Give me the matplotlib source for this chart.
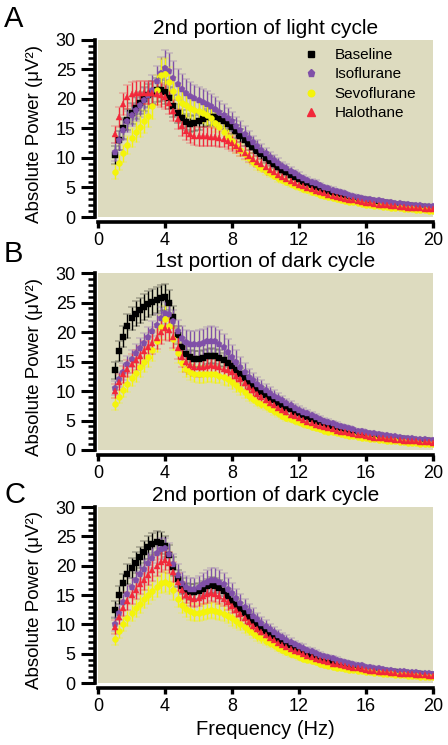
import numpy as np
import matplotlib
matplotlib.use("Agg")
import matplotlib.pyplot as plt
from matplotlib.lines import Line2D
from matplotlib.ticker import MultipleLocator

plt.rcParams['font.family'] = ['Liberation Sans', 'DejaVu Sans']

# ---------------- data ----------------
freq = np.arange(1.0, 20.01, 0.25)  # Hz bins, 1..20

series_names = ['Baseline', 'Isoflurane', 'Sevoflurane', 'Halothane']
panel_titles = ['2nd portion of light cycle', '1st portion of dark cycle', '2nd portion of dark cycle']
panel_letters = ['A', 'B', 'C']

# Panel A: 2nd portion of light cycle
a_base = [10.5, 13.0, 15.0, 16.5, 17.6, 18.5, 19.3, 20.0, 20.6, 21.1, 21.5, 21.6,
          21.2, 20.2, 18.8, 17.6, 16.7, 16.1, 15.8, 15.9, 16.2, 16.6, 16.9, 17.0,
          16.9, 16.6, 16.2, 15.8, 15.2, 14.5, 13.8, 13.1, 12.4, 11.8, 11.2, 10.6,
          10.0, 9.5, 9.0, 8.5, 8.0, 7.6, 7.2, 6.8, 6.4, 6.0, 5.7, 5.4,
          5.1, 4.8, 4.6, 4.3, 4.1, 3.9, 3.7, 3.5, 3.3, 3.2, 3.0, 2.9,
          2.8, 2.7, 2.6, 2.5, 2.4, 2.3, 2.2, 2.1, 2.0, 1.95, 1.9, 1.8,
          1.75, 1.7, 1.65, 1.6, 1.55]
a_iso = [11.0, 13.0, 14.8, 16.2, 17.3, 18.2, 19.0, 19.8, 20.6, 21.6, 23.0, 24.4,
         25.3, 24.8, 23.6, 22.5, 21.7, 21.0, 20.5, 20.1, 19.8, 19.5, 19.2, 18.8,
         18.3, 17.8, 17.3, 16.8, 16.2, 15.5, 14.8, 14.1, 13.4, 12.7, 12.0, 11.4,
         10.8, 10.2, 9.7, 9.2, 8.7, 8.3, 7.8, 7.4, 7.0, 6.6, 6.3, 6.0,
         5.7, 5.4, 5.1, 4.9, 4.6, 4.4, 4.2, 4.0, 3.8, 3.6, 3.4, 3.3,
         3.1, 3.0, 2.9, 2.8, 2.7, 2.6, 2.5, 2.4, 2.3, 2.2, 2.15, 2.1,
         2.0, 1.95, 1.9, 1.85, 1.8]
a_sevo = [7.6, 9.2, 10.8, 12.2, 13.4, 14.4, 15.3, 16.2, 17.2, 18.8, 21.5, 24.0,
          24.2, 22.8, 21.3, 20.2, 19.4, 18.9, 18.5, 18.2, 18.0, 17.7, 17.3, 16.7,
          16.0, 15.2, 14.4, 13.6, 12.8, 12.0, 11.3, 10.6, 10.0, 9.4, 8.8, 8.3,
          7.8, 7.4, 7.0, 6.6, 6.2, 5.9, 5.6, 5.3, 5.0, 4.7, 4.5, 4.2,
          4.0, 3.8, 3.6, 3.4, 3.2, 3.0, 2.9, 2.7, 2.6, 2.5, 2.4, 2.2,
          2.1, 2.0, 1.9, 1.8, 1.75, 1.7, 1.6, 1.55, 1.5, 1.4, 1.35, 1.3,
          1.25, 1.2, 1.15, 1.1, 1.05]
a_halo = [14.0, 17.0, 19.2, 20.3, 20.8, 21.0, 21.1, 21.1, 21.1, 21.0, 20.9, 20.7,
          20.3, 19.4, 18.0, 16.6, 15.4, 14.6, 14.1, 13.8, 13.7, 13.7, 13.7, 13.6,
          13.5, 13.4, 13.2, 12.9, 12.5, 12.0, 11.5, 10.9, 10.4, 9.9, 9.4, 8.9,
          8.5, 8.0, 7.6, 7.2, 6.8, 6.5, 6.1, 5.8, 5.5, 5.2, 4.9, 4.7,
          4.4, 4.2, 4.0, 3.8, 3.6, 3.4, 3.2, 3.1, 2.9, 2.8, 2.7, 2.5,
          2.4, 2.3, 2.2, 2.1, 2.0, 1.95, 1.9, 1.8, 1.75, 1.7, 1.6, 1.55,
          1.5, 1.45, 1.4, 1.35, 1.3]
a_base_sem = [1.5, 1.6, 1.7, 1.8, 1.8, 1.9, 1.9, 2.0, 2.0, 2.0, 2.0, 2.0,
              2.0, 1.9, 1.8, 1.6, 1.5, 1.4, 1.4, 1.4, 1.4, 1.4, 1.4, 1.4,
              1.4, 1.3, 1.3, 1.2, 1.2, 1.1, 1.1, 1.0, 1.0, 0.9, 0.9, 0.8,
              0.8, 0.8, 0.7, 0.7, 0.7, 0.6, 0.6, 0.6, 0.5, 0.5, 0.5, 0.5,
              0.4, 0.4, 0.4, 0.4, 0.4, 0.3, 0.3, 0.3, 0.3, 0.3, 0.3, 0.3,
              0.3, 0.3, 0.3, 0.3, 0.3, 0.2, 0.2, 0.2, 0.2, 0.2, 0.2, 0.2,
              0.2, 0.2, 0.2, 0.2, 0.2]
a_iso_sem = [1.5, 1.6, 1.7, 1.8, 1.9, 2.0, 2.0, 2.1, 2.2, 2.4, 2.6, 2.8,
             3.0, 3.0, 2.8, 2.6, 2.5, 2.4, 2.3, 2.2, 2.2, 2.2, 2.2, 2.1,
             2.0, 1.9, 1.8, 1.7, 1.6, 1.5, 1.4, 1.3, 1.2, 1.1, 1.0, 1.0,
             0.9, 0.9, 0.8, 0.8, 0.7, 0.7, 0.6, 0.6, 0.6, 0.5, 0.5, 0.5,
             0.5, 0.4, 0.4, 0.4, 0.4, 0.4, 0.3, 0.3, 0.3, 0.3, 0.3, 0.3,
             0.3, 0.3, 0.3, 0.3, 0.2, 0.2, 0.2, 0.2, 0.2, 0.2, 0.2, 0.2,
             0.2, 0.2, 0.2, 0.2, 0.2]
a_sevo_sem = [1.2, 1.3, 1.4, 1.5, 1.6, 1.7, 1.8, 1.9, 2.0, 2.2, 2.5, 2.8,
              2.8, 2.6, 2.4, 2.2, 2.0, 1.9, 1.8, 1.8, 1.8, 1.8, 1.7, 1.7,
              1.6, 1.5, 1.4, 1.3, 1.2, 1.1, 1.0, 1.0, 0.9, 0.8, 0.8, 0.7,
              0.7, 0.6, 0.6, 0.6, 0.5, 0.5, 0.5, 0.4, 0.4, 0.4, 0.4, 0.4,
              0.3, 0.3, 0.3, 0.3, 0.3, 0.3, 0.3, 0.2, 0.2, 0.2, 0.2, 0.2,
              0.2, 0.2, 0.2, 0.2, 0.2, 0.2, 0.2, 0.2, 0.2, 0.2, 0.2, 0.2,
              0.2, 0.2, 0.2, 0.2, 0.2]
a_halo_sem = [1.5, 1.7, 1.9, 2.0, 2.0, 2.0, 2.0, 2.0, 2.0, 2.0, 2.0, 2.0,
              2.0, 1.9, 1.8, 1.7, 1.6, 1.6, 1.6, 1.6, 1.6, 1.6, 1.6, 1.6,
              1.5, 1.5, 1.4, 1.4, 1.3, 1.2, 1.2, 1.1, 1.0, 1.0, 0.9, 0.9,
              0.8, 0.8, 0.7, 0.7, 0.6, 0.6, 0.6, 0.5, 0.5, 0.5, 0.5, 0.4,
              0.4, 0.4, 0.4, 0.3, 0.3, 0.3, 0.3, 0.3, 0.3, 0.3, 0.3, 0.3,
              0.2, 0.2, 0.2, 0.2, 0.2, 0.2, 0.2, 0.2, 0.2, 0.2, 0.2, 0.2,
              0.2, 0.2, 0.2, 0.2, 0.2]

# Panel B: 1st portion of dark cycle
b_base = [13.5, 16.8, 19.2, 21.0, 22.3, 23.1, 23.7, 24.2, 24.7, 25.1, 25.5, 25.8,
          25.9, 25.0, 22.5, 19.5, 17.5, 16.3, 15.7, 15.4, 15.4, 15.6, 15.9, 16.0,
          15.9, 15.6, 15.2, 14.7, 14.2, 13.6, 12.9, 12.2, 11.5, 10.9, 10.3, 9.8,
          9.3, 8.8, 8.4, 8.0, 7.6, 7.2, 6.9, 6.5, 6.2, 5.9, 5.6, 5.3,
          5.0, 4.8, 4.5, 4.3, 4.0, 3.8, 3.6, 3.4, 3.2, 3.0, 2.9, 2.7,
          2.6, 2.5, 2.4, 2.3, 2.2, 2.1, 2.0, 1.9, 1.85, 1.8, 1.7, 1.65,
          1.6, 1.55, 1.5, 1.45, 1.4]
b_iso = [10.5, 12.0, 13.3, 14.5, 15.5, 16.4, 17.3, 18.2, 19.1, 20.1, 21.2, 22.4,
         23.2, 23.0, 21.8, 20.2, 19.0, 18.3, 18.0, 17.9, 17.9, 18.1, 18.4, 18.5,
         18.4, 18.0, 17.4, 16.6, 15.8, 15.0, 14.1, 13.2, 12.4, 11.8, 11.2, 10.7,
         10.2, 9.7, 9.2, 8.8, 8.4, 8.0, 7.6, 7.2, 6.8, 6.5, 6.2, 5.9,
         5.6, 5.3, 5.0, 4.8, 4.5, 4.3, 4.1, 3.9, 3.7, 3.5, 3.3, 3.2,
         3.0, 2.9, 2.8, 2.7, 2.6, 2.5, 2.4, 2.3, 2.2, 2.1, 2.05, 2.0,
         1.9, 1.85, 1.8, 1.75, 1.7]
b_sevo = [7.8, 9.0, 10.2, 11.2, 12.2, 13.1, 14.0, 14.9, 15.8, 16.9, 18.5, 20.8,
          22.2, 21.0, 18.8, 16.5, 14.8, 13.8, 13.2, 12.9, 12.8, 12.8, 12.9, 12.9,
          12.8, 12.6, 12.3, 12.0, 11.6, 11.0, 10.4, 9.8, 9.2, 8.7, 8.2, 7.8,
          7.4, 7.0, 6.6, 6.2, 5.8, 5.5, 5.2, 4.9, 4.7, 4.4, 4.2, 3.9,
          3.7, 3.5, 3.3, 3.1, 3.0, 2.8, 2.7, 2.5, 2.4, 2.3, 2.2, 2.1,
          2.0, 1.9, 1.8, 1.7, 1.65, 1.55, 1.5, 1.45, 1.4, 1.3, 1.25, 1.2,
          1.15, 1.1, 1.05, 1.0, 0.95]
b_halo = [10.0, 11.5, 12.8, 13.8, 14.6, 15.3, 16.0, 16.7, 17.4, 18.1, 19.0, 20.0,
          20.6, 20.4, 19.2, 17.3, 15.8, 14.9, 14.4, 14.1, 14.0, 14.1, 14.3, 14.4,
          14.3, 14.1, 13.8, 13.5, 13.2, 12.6, 12.0, 11.3, 10.7, 10.1, 9.5, 9.0,
          8.5, 8.0, 7.6, 7.1, 6.7, 6.4, 6.0, 5.7, 5.4, 5.1, 4.8, 4.6,
          4.3, 4.1, 3.9, 3.7, 3.5, 3.3, 3.1, 3.0, 2.8, 2.7, 2.6, 2.5,
          2.3, 2.2, 2.1, 2.0, 1.95, 1.9, 1.8, 1.75, 1.7, 1.6, 1.55, 1.5,
          1.45, 1.4, 1.35, 1.3, 1.25]
b_base_sem = [1.5, 1.7, 1.8, 2.0, 2.0, 2.1, 2.1, 2.2, 2.2, 2.2, 2.2, 2.2,
              2.2, 2.1, 1.9, 1.6, 1.4, 1.3, 1.3, 1.3, 1.3, 1.3, 1.3, 1.3,
              1.3, 1.3, 1.2, 1.2, 1.1, 1.1, 1.0, 1.0, 0.9, 0.9, 0.8, 0.8,
              0.7, 0.7, 0.7, 0.6, 0.6, 0.6, 0.5, 0.5, 0.5, 0.5, 0.4, 0.4,
              0.4, 0.4, 0.4, 0.3, 0.3, 0.3, 0.3, 0.3, 0.3, 0.3, 0.3, 0.2,
              0.2, 0.2, 0.2, 0.2, 0.2, 0.2, 0.2, 0.2, 0.2, 0.2, 0.2, 0.2,
              0.2, 0.2, 0.2, 0.2, 0.2]
b_iso_sem = [1.2, 1.3, 1.4, 1.5, 1.5, 1.6, 1.6, 1.7, 1.7, 1.8, 1.8, 1.9,
             1.9, 1.9, 1.9, 1.9, 2.0, 2.1, 2.2, 2.3, 2.4, 2.4, 2.5, 2.5,
             2.5, 2.4, 2.3, 2.2, 2.0, 1.9, 1.7, 1.6, 1.4, 1.3, 1.2, 1.1,
             1.0, 0.9, 0.9, 0.8, 0.8, 0.7, 0.7, 0.6, 0.6, 0.6, 0.5, 0.5,
             0.5, 0.4, 0.4, 0.4, 0.4, 0.4, 0.3, 0.3, 0.3, 0.3, 0.3, 0.3,
             0.3, 0.3, 0.3, 0.3, 0.2, 0.2, 0.2, 0.2, 0.2, 0.2, 0.2, 0.2,
             0.2, 0.2, 0.2, 0.2, 0.2]
b_sevo_sem = [1.0, 1.1, 1.2, 1.3, 1.4, 1.5, 1.6, 1.6, 1.7, 1.8, 1.9, 2.1,
              2.2, 2.1, 1.9, 1.7, 1.5, 1.4, 1.4, 1.4, 1.4, 1.4, 1.4, 1.4,
              1.4, 1.3, 1.3, 1.2, 1.2, 1.1, 1.0, 1.0, 0.9, 0.8, 0.8, 0.7,
              0.7, 0.6, 0.6, 0.6, 0.5, 0.5, 0.5, 0.4, 0.4, 0.4, 0.4, 0.3,
              0.3, 0.3, 0.3, 0.3, 0.3, 0.3, 0.2, 0.2, 0.2, 0.2, 0.2, 0.2,
              0.2, 0.2, 0.2, 0.2, 0.2, 0.2, 0.2, 0.2, 0.2, 0.2, 0.2, 0.2,
              0.2, 0.2, 0.2, 0.2, 0.2]
b_halo_sem = [1.2, 1.3, 1.4, 1.5, 1.6, 1.7, 1.7, 1.8, 1.8, 1.9, 1.9, 2.0,
              2.0, 2.0, 1.9, 1.8, 1.7, 1.6, 1.6, 1.6, 1.6, 1.6, 1.6, 1.6,
              1.5, 1.5, 1.4, 1.4, 1.3, 1.2, 1.2, 1.1, 1.0, 1.0, 0.9, 0.9,
              0.8, 0.8, 0.7, 0.7, 0.6, 0.6, 0.6, 0.5, 0.5, 0.5, 0.5, 0.4,
              0.4, 0.4, 0.4, 0.3, 0.3, 0.3, 0.3, 0.3, 0.3, 0.3, 0.3, 0.3,
              0.2, 0.2, 0.2, 0.2, 0.2, 0.2, 0.2, 0.2, 0.2, 0.2, 0.2, 0.2,
              0.2, 0.2, 0.2, 0.2, 0.2]

# Panel C: 2nd portion of dark cycle
c_base = [12.5, 15.0, 17.0, 18.5, 19.6, 20.5, 21.4, 22.3, 23.1, 23.7, 24.0, 23.9,
          23.3, 21.8, 19.8, 17.8, 16.5, 15.8, 15.5, 15.5, 15.7, 16.1, 16.5, 16.7,
          16.6, 16.2, 15.6, 14.9, 14.0, 13.3, 12.6, 11.9, 11.2, 10.6, 10.0, 9.4,
          8.9, 8.4, 8.0, 7.5, 7.1, 6.7, 6.4, 6.0, 5.7, 5.4, 5.1, 4.8,
          4.6, 4.3, 4.1, 3.9, 3.7, 3.5, 3.3, 3.1, 3.0, 2.8, 2.7, 2.6,
          2.4, 2.3, 2.2, 2.1, 2.0, 1.95, 1.9, 1.8, 1.75, 1.7, 1.6, 1.55,
          1.5, 1.45, 1.4, 1.35, 1.3]
c_iso = [10.0, 12.0, 13.8, 15.2, 16.4, 17.5, 18.5, 19.5, 20.4, 21.3, 22.2, 22.9,
         23.0, 22.0, 20.2, 18.4, 17.1, 16.4, 16.1, 16.1, 16.3, 16.8, 17.3, 17.6,
         17.6, 17.3, 16.8, 16.1, 15.3, 14.5, 13.7, 12.9, 12.2, 11.5, 10.9, 10.3,
         9.7, 9.2, 8.7, 8.2, 7.8, 7.4, 7.0, 6.6, 6.3, 6.0, 5.7, 5.4,
         5.1, 4.8, 4.6, 4.4, 4.2, 4.0, 3.8, 3.6, 3.4, 3.3, 3.1, 3.0,
         2.8, 2.7, 2.6, 2.5, 2.4, 2.3, 2.2, 2.1, 2.05, 2.0, 1.9, 1.85,
         1.8, 1.75, 1.7, 1.65, 1.6]
c_sevo = [7.5, 8.8, 10.0, 11.0, 11.9, 12.7, 13.5, 14.3, 15.0, 15.7, 16.4, 17.0,
          17.3, 16.9, 15.8, 14.4, 13.3, 12.6, 12.2, 12.0, 12.0, 12.1, 12.3, 12.4,
          12.3, 12.1, 11.8, 11.4, 11.0, 10.5, 10.0, 9.5, 9.0, 8.5, 8.0, 7.6,
          7.2, 6.8, 6.4, 6.0, 5.6, 5.3, 5.0, 4.7, 4.4, 4.1, 3.9, 3.7,
          3.5, 3.3, 3.1, 2.9, 2.8, 2.6, 2.5, 2.4, 2.3, 2.2, 2.1, 2.0,
          1.9, 1.8, 1.7, 1.65, 1.6, 1.5, 1.45, 1.4, 1.35, 1.3, 1.25, 1.2,
          1.15, 1.1, 1.05, 1.0, 0.95]
c_halo = [9.5, 11.3, 12.8, 14.0, 15.0, 15.9, 16.8, 17.6, 18.4, 19.2, 20.0, 20.7,
          21.0, 20.5, 19.0, 17.2, 15.8, 15.0, 14.6, 14.4, 14.5, 14.8, 15.1, 15.3,
          15.2, 14.9, 14.4, 13.8, 13.1, 12.4, 11.7, 11.0, 10.4, 9.8, 9.2, 8.7,
          8.2, 7.7, 7.3, 6.9, 6.5, 6.1, 5.8, 5.5, 5.2, 4.9, 4.6, 4.4,
          4.1, 3.9, 3.7, 3.5, 3.3, 3.2, 3.0, 2.9, 2.7, 2.6, 2.5, 2.4,
          2.2, 2.1, 2.0, 1.95, 1.9, 1.8, 1.75, 1.7, 1.6, 1.55, 1.5, 1.45,
          1.4, 1.35, 1.3, 1.25, 1.2]
c_base_sem = [1.4, 1.5, 1.6, 1.7, 1.7, 1.8, 1.8, 1.9, 1.9, 1.9, 1.9, 1.9,
              1.8, 1.7, 1.6, 1.5, 1.4, 1.3, 1.3, 1.3, 1.3, 1.3, 1.3, 1.3,
              1.3, 1.3, 1.2, 1.2, 1.1, 1.1, 1.0, 1.0, 0.9, 0.9, 0.8, 0.8,
              0.7, 0.7, 0.7, 0.6, 0.6, 0.6, 0.5, 0.5, 0.5, 0.5, 0.4, 0.4,
              0.4, 0.4, 0.4, 0.3, 0.3, 0.3, 0.3, 0.3, 0.3, 0.3, 0.3, 0.2,
              0.2, 0.2, 0.2, 0.2, 0.2, 0.2, 0.2, 0.2, 0.2, 0.2, 0.2, 0.2,
              0.2, 0.2, 0.2, 0.2, 0.2]
c_iso_sem = [1.2, 1.3, 1.4, 1.5, 1.5, 1.6, 1.6, 1.7, 1.7, 1.7, 1.8, 1.8,
             1.8, 1.8, 1.8, 1.8, 1.8, 1.8, 1.8, 1.8, 1.9, 1.9, 2.0, 2.0,
             2.0, 2.0, 1.9, 1.8, 1.7, 1.6, 1.5, 1.4, 1.3, 1.2, 1.1, 1.0,
             1.0, 0.9, 0.9, 0.8, 0.8, 0.7, 0.7, 0.6, 0.6, 0.6, 0.5, 0.5,
             0.5, 0.4, 0.4, 0.4, 0.4, 0.4, 0.3, 0.3, 0.3, 0.3, 0.3, 0.3,
             0.3, 0.3, 0.3, 0.3, 0.2, 0.2, 0.2, 0.2, 0.2, 0.2, 0.2, 0.2,
             0.2, 0.2, 0.2, 0.2, 0.2]
c_sevo_sem = [1.0, 1.1, 1.2, 1.3, 1.4, 1.4, 1.5, 1.5, 1.6, 1.6, 1.7, 1.7,
              1.8, 1.7, 1.6, 1.5, 1.4, 1.4, 1.4, 1.4, 1.4, 1.4, 1.4, 1.4,
              1.4, 1.3, 1.3, 1.2, 1.2, 1.1, 1.0, 1.0, 0.9, 0.8, 0.8, 0.7,
              0.7, 0.6, 0.6, 0.6, 0.5, 0.5, 0.5, 0.4, 0.4, 0.4, 0.4, 0.3,
              0.3, 0.3, 0.3, 0.3, 0.3, 0.3, 0.2, 0.2, 0.2, 0.2, 0.2, 0.2,
              0.2, 0.2, 0.2, 0.2, 0.2, 0.2, 0.2, 0.2, 0.2, 0.2, 0.2, 0.2,
              0.2, 0.2, 0.2, 0.2, 0.2]
c_halo_sem = [1.2, 1.3, 1.4, 1.5, 1.6, 1.6, 1.7, 1.7, 1.7, 1.8, 1.8, 1.8,
              1.8, 1.8, 1.7, 1.6, 1.5, 1.4, 1.4, 1.4, 1.4, 1.4, 1.4, 1.4,
              1.4, 1.4, 1.3, 1.3, 1.2, 1.2, 1.1, 1.0, 1.0, 0.9, 0.9, 0.8,
              0.8, 0.7, 0.7, 0.6, 0.6, 0.6, 0.5, 0.5, 0.5, 0.5, 0.4, 0.4,
              0.4, 0.4, 0.3, 0.3, 0.3, 0.3, 0.3, 0.3, 0.3, 0.3, 0.3, 0.2,
              0.2, 0.2, 0.2, 0.2, 0.2, 0.2, 0.2, 0.2, 0.2, 0.2, 0.2, 0.2,
              0.2, 0.2, 0.2, 0.2, 0.2]

panels = [
    ([a_base, a_iso, a_sevo, a_halo], [a_base_sem, a_iso_sem, a_sevo_sem, a_halo_sem]),
    ([b_base, b_iso, b_sevo, b_halo], [b_base_sem, b_iso_sem, b_sevo_sem, b_halo_sem]),
    ([c_base, c_iso, c_sevo, c_halo], [c_base_sem, c_iso_sem, c_sevo_sem, c_halo_sem]),
]

# ---------------- style ----------------
colors = ['#000000', '#8050A8', '#F4F40A', '#F2283A']
markers = ['s', 'p', 'o', '^']
msizes = [4.0, 4.8, 4.3, 4.8]
bg = '#DDDBBF'

W, H = 448, 745
fig = plt.figure(figsize=(W / 100, H / 100), dpi=100)

ax_px = [(40, 217), (273, 450), (507, 683)]  # top, bottom in pixels
left_px, right_px = 98, 433
letter_y = [5, 240, 481]

for i, ((means, sems), (top, bot)) in enumerate(zip(panels, ax_px)):
    ax = fig.add_axes([left_px / W, 1 - bot / H, (right_px - left_px) / W, (bot - top) / H])
    ax.set_facecolor(bg)
    for m, s, c, mk, ms in zip(means, sems, colors, markers, msizes):
        ax.errorbar(freq, m, yerr=s, fmt=mk, color=c, ms=ms, mec=c, mew=0.3,
                    ecolor=c, elinewidth=1.0, capsize=3.0, capthick=1.0, zorder=3)
    ax.set_xlim(0, 20)
    ax.set_ylim(0, 30)
    ax.xaxis.set_major_locator(MultipleLocator(4))
    ax.yaxis.set_major_locator(MultipleLocator(5))
    ax.yaxis.set_minor_locator(MultipleLocator(1))
    for sp in ['top', 'right']:
        ax.spines[sp].set_visible(False)
    ax.spines['left'].set_position(('outward', 2))
    ax.spines['bottom'].set_position(('outward', 3.5))
    ax.spines['left'].set_linewidth(2.6)
    ax.spines['bottom'].set_linewidth(2.6)
    ax.tick_params(axis='y', which='major', length=10, width=2.2, pad=4, labelsize=13)
    ax.tick_params(axis='y', which='minor', length=5, width=1.8)
    ax.tick_params(axis='x', which='major', length=4, width=2.4, pad=3, labelsize=13)
    ax.set_title(panel_titles[i], fontsize=15, pad=4)
    ax.set_ylabel('Absolute Power (\u03bcV\u00b2)', fontsize=13.5)
    ax.yaxis.set_label_coords(-0.165, 0.47)
    fig.text(4 / W, 1 - letter_y[i] / H, panel_letters[i], fontsize=21, va='top', ha='left')
    if i == 0:
        handles = [Line2D([], [], ls='none', marker=mk, color=c, ms=ms + 0.4)
                   for c, mk, ms in zip(colors, markers, msizes)]
        ax.legend(handles, series_names, loc='upper left', bbox_to_anchor=(0.618, 0.955),
                  frameon=False, fontsize=11, handlelength=0.8, handletextpad=1.15,
                  labelspacing=0.36, borderaxespad=0, borderpad=0)
    if i == 2:
        ax.set_xlabel('Frequency (Hz)', fontsize=14.5, labelpad=4)

fig.savefig('out.png', dpi=100)
